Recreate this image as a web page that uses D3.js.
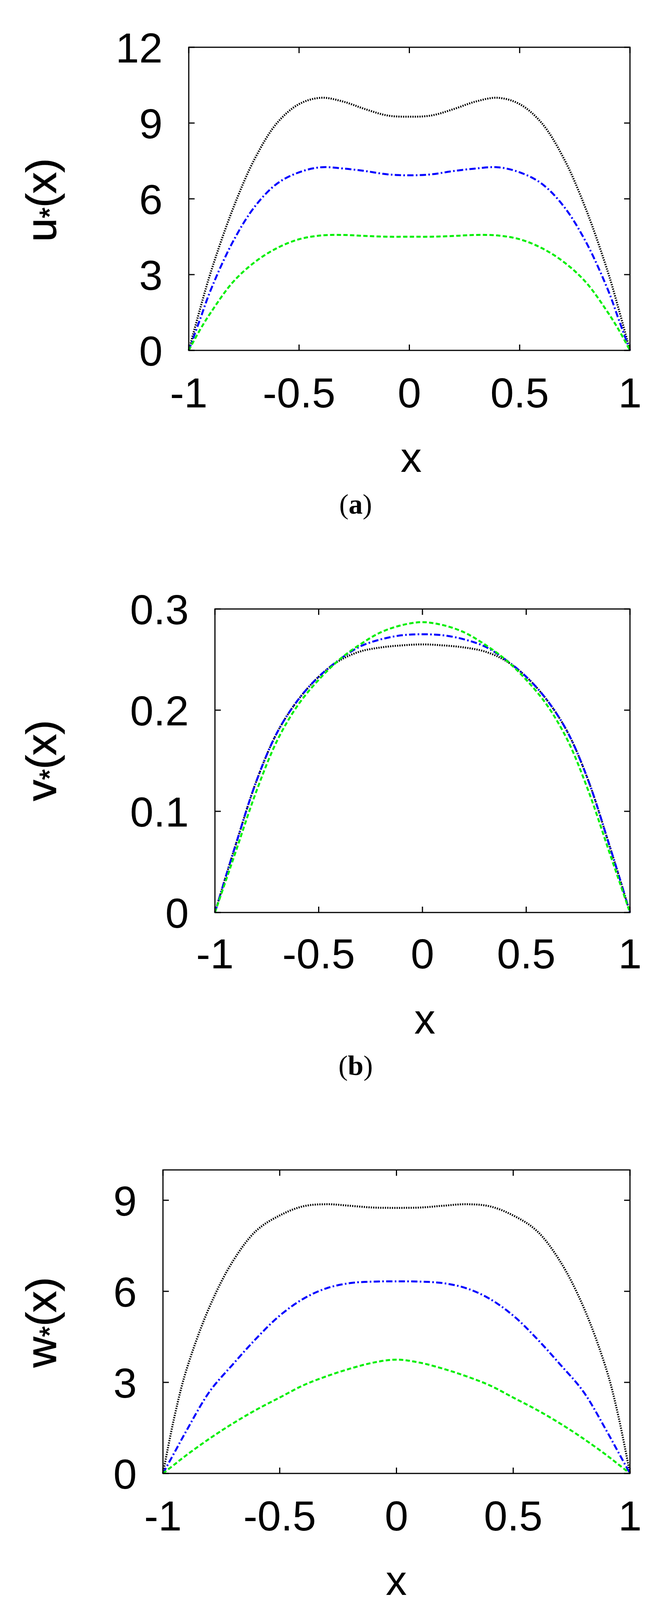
<!DOCTYPE html>
<html><head><meta charset="utf-8">
<script src="https://cdn.jsdelivr.net/npm/d3@7"></script>
<style>body{margin:0;background:#fff}</style>
</head><body>
<svg id="fig" width="1717" height="4246"></svg>
<script>
// x grid shared by all profiles
var xs = [-1,-0.95,-0.9,-0.8,-0.7,-0.6,-0.5,-0.4,-0.3,-0.2,-0.1,0,0.1,0.2,0.3,0.4,0.5,0.6,0.7,0.8,0.9,0.95,1];

// (a) u*(x)
var uBlack = [0,1.6,3.1,5.6,7.6,9.0,9.75,10.0,9.85,9.55,9.3,9.25,9.3,9.55,9.85,10.0,9.75,9.0,7.6,5.6,3.1,1.6,0];
var uBlue  = [0,1.2,2.4,4.3,5.7,6.6,7.05,7.25,7.2,7.1,6.97,6.93,6.97,7.1,7.2,7.25,7.05,6.6,5.7,4.3,2.4,1.2,0];
var uGreen = [0,0.8,1.5,2.7,3.5,4.05,4.4,4.55,4.57,4.53,4.5,4.5,4.5,4.53,4.57,4.55,4.4,4.05,3.5,2.7,1.5,0.8,0];
// (b) v*(x)
var vBlack = [0,0.034,0.067,0.13,0.178,0.21,0.233,0.249,0.258,0.262,0.264,0.265,0.264,0.262,0.258,0.249,0.233,0.21,0.178,0.13,0.067,0.034,0];
var vBlue  = [0,0.034,0.067,0.13,0.178,0.21,0.233,0.25,0.263,0.27,0.274,0.275,0.274,0.27,0.263,0.25,0.233,0.21,0.178,0.13,0.067,0.034,0];
var vGreen = [0,0.03,0.06,0.12,0.17,0.205,0.23,0.25,0.265,0.277,0.284,0.287,0.284,0.277,0.265,0.25,0.23,0.205,0.17,0.12,0.06,0.03,0];
// (c) w*(x)
var wBlack = [0,1.9,3.4,5.5,7.0,8.0,8.5,8.8,8.87,8.82,8.76,8.75,8.76,8.82,8.87,8.8,8.5,8.0,7.0,5.5,3.4,1.9,0];
var wBlue  = [0,0.7,1.4,2.7,3.6,4.45,5.2,5.75,6.1,6.27,6.32,6.33,6.32,6.27,6.1,5.75,5.2,4.45,3.6,2.7,1.4,0.7,0];
var wGreen = [0,0.3,0.6,1.15,1.65,2.1,2.5,2.9,3.2,3.45,3.65,3.75,3.65,3.45,3.2,2.9,2.5,2.1,1.65,1.15,0.6,0.3,0];

var xTicks = [-1,-0.5,0,0.5,1];

var panels = [
  { box:[483,1612,121,897],  ydom:[0,12],  yticks:[0,3,6,9,12], ylab:'u', series:[uBlack,uBlue,uGreen],
    tickY:1043, xlabY:1208, xlabX:1052, capY:1315, cap:'a', ylabY:512 },
  { box:[550,1612,1559,2336], ydom:[0,0.3], yticks:[0,0.1,0.2,0.3], ylab:'v', series:[vBlack,vBlue,vGreen],
    tickY:2479, xlabY:2646, xlabX:1087, capY:2752, cap:'b', ylabY:1947 },
  { box:[417,1612,2995,3772], ydom:[0,10], yticks:[0,3,6,9], ylab:'w', series:[wBlack,wBlue,wGreen],
    tickY:3918, xlabY:4083, xlabX:1014, capY:4193, cap:'c', ylabY:3385 }
];

var styles = [
  { color:'#000000', dash:'3,3' },
  { color:'#0000ff', dash:'16,6,4,6' },
  { color:'#00ee00', dash:'11,6' }
];

var font = "'Liberation Sans',Arial,sans-serif";
var svg = d3.select('#fig');

panels.forEach(function(p) {
  var x = d3.scaleLinear().domain([-1,1]).range([p.box[0], p.box[1]]);
  var y = d3.scaleLinear().domain(p.ydom).range([p.box[3], p.box[2]]);
  var g = svg.append('g');

  // curves
  p.series.forEach(function(vals, i) {
    var line = d3.line().curve(d3.curveCatmullRom)
      .x(function(d, j) { return x(xs[j]); })
      .y(function(d) { return y(d); });
    g.append('path').datum(vals)
      .attr('d', line)
      .attr('fill', 'none')
      .attr('stroke', styles[i].color)
      .attr('stroke-width', 5)
      .attr('stroke-dasharray', styles[i].dash);
  });

  // inward ticks on all four sides
  xTicks.forEach(function(t) {
    g.append('line').attr('x1', x(t)).attr('x2', x(t)).attr('y1', y.range()[0]).attr('y2', y.range()[0]-15)
      .attr('stroke','#000').attr('stroke-width',3);
    g.append('line').attr('x1', x(t)).attr('x2', x(t)).attr('y1', y.range()[1]).attr('y2', y.range()[1]+15)
      .attr('stroke','#000').attr('stroke-width',3);
    g.append('text').attr('x', x(t)).attr('y', p.tickY).attr('text-anchor','middle')
      .attr('font-family', font).attr('font-size', 108).text(t);
  });
  p.yticks.forEach(function(t) {
    g.append('line').attr('x1', x(-1)).attr('x2', x(-1)+15).attr('y1', y(t)).attr('y2', y(t))
      .attr('stroke','#000').attr('stroke-width',3);
    g.append('line').attr('x1', x(1)).attr('x2', x(1)-15).attr('y1', y(t)).attr('y2', y(t))
      .attr('stroke','#000').attr('stroke-width',3);
    g.append('text').attr('x', x(-1)-67).attr('y', y(t)+39).attr('text-anchor','end')
      .attr('font-family', font).attr('font-size', 108).text(t);
  });

  // frame
  g.append('rect').attr('x', p.box[0]).attr('y', p.box[2])
    .attr('width', p.box[1]-p.box[0]).attr('height', p.box[3]-p.box[2])
    .attr('fill','none').attr('stroke','#000').attr('stroke-width',3);

  // axis labels
  g.append('text').attr('x', p.xlabX).attr('y', p.xlabY).attr('text-anchor','middle')
    .attr('font-family', font).attr('font-size', 108).text('x');
  var yl = g.append('text').attr('transform', 'translate(143,' + p.ylabY + ') rotate(-90)')
    .attr('text-anchor','middle').attr('font-family', font).attr('font-size', 108)
    .attr('stroke','#000').attr('stroke-width',1.5);
  yl.append('tspan').text(p.ylab);
  yl.append('tspan').attr('font-size', 70).attr('dy', 8).text('*');
  yl.append('tspan').attr('dy', -8).text('(x)');

  // caption
  var c = g.append('text').attr('x', 910).attr('y', p.capY).attr('text-anchor','middle')
    .attr('font-family', "'Liberation Serif','DejaVu Serif',serif").attr('font-size', 72);
  c.append('tspan').text('(');
  c.append('tspan').attr('font-weight','bold').text(p.cap);
  c.append('tspan').text(')');
});
</script>
</body></html>
